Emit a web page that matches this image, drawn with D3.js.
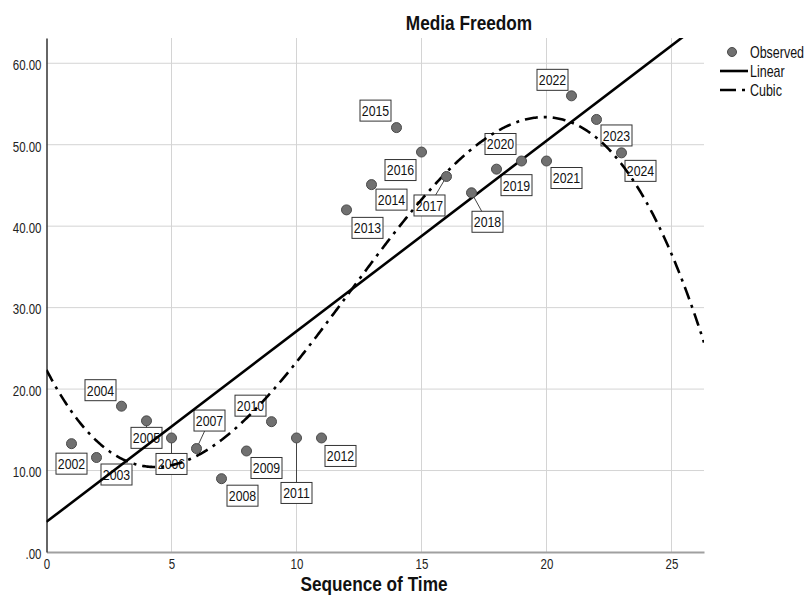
<!DOCTYPE html>
<html><head><meta charset="utf-8">
<script src="https://cdn.jsdelivr.net/npm/d3@7"></script>
<style>
body{margin:0;background:#fff;}
text{font-family:"Liberation Sans",Arial,sans-serif;}
</style></head>
<body><svg id="c" width="809" height="615"></svg>
<script>
// ---- data ----
const years = ["2002","2003","2004","2005","2006","2007","2008","2009","2010","2011","2012","2013","2014","2015","2016","2017","2018","2019","2020","2021","2022","2023","2024"];
const sequence = [1,2,3,4,5,6,7,8,9,10,11,12,13,14,15,16,17,18,19,20,21,22,23];
const mediaFreedom = [13.3,11.6,17.9,16.1,14.0,12.7,9.0,12.4,16.0,14.0,14.0,42.0,45.1,52.1,49.1,46.1,44.1,47.0,48.0,48.0,56.0,53.1,49.0];
const xTicks = [0,5,10,15,20,25];
const yTicks = [0,10,20,30,40,50,60];
const legendItems = ["Observed","Linear","Cubic"];
const titleText = "Media Freedom";
const xTitle = "Sequence of Time";

// ---- layout (label placement, px) ----
const labelOffsets = [[0,20],[20,17],[-21,-16],[0,17],[0,26],[13,-28],[21,17],[20,17],[-21,-16],[0,55],[19,18],[21,18],[20,15],[-21,-17],[-21,18],[-17,29],[16,29],[20,16],[-21,-17],[20,17],[-19,-16],[20,16],[19,18]];
const leader = [false,false,false,true,true,true,false,false,false,true,false,false,false,false,false,true,true,false,false,false,false,false,false];

const svg = d3.select("#c");
const L=46.5, R=704, T=38, B=552;
const x = d3.scaleLinear().domain([0,26.3]).range([L,R]);
const y = d3.scaleLinear().domain([0,63.1]).range([B,T]);
function narrow(sel, f){
  f = f || 0.82;
  sel.each(function(){
    const w=this.getComputedTextLength();
    if(w>0){ this.setAttribute("textLength", w*f); this.setAttribute("lengthAdjust","spacingAndGlyphs"); }
  });
}

// least-squares polynomial fit
function polyfit(xs, ys, deg){
  const n=deg+1, A=[], b=[];
  for(let i=0;i<n;i++){A.push(new Array(n).fill(0)); b.push(0);}
  xs.forEach((xv,k)=>{
    for(let i=0;i<n;i++){
      b[i]+=ys[k]*Math.pow(xv,i);
      for(let j=0;j<n;j++) A[i][j]+=Math.pow(xv,i+j);
    }
  });
  for(let i=0;i<n;i++){
    let p=i; for(let r=i+1;r<n;r++) if(Math.abs(A[r][i])>Math.abs(A[p][i])) p=r;
    [A[i],A[p]]=[A[p],A[i]]; [b[i],b[p]]=[b[p],b[i]];
    for(let r=i+1;r<n;r++){const f=A[r][i]/A[i][i]; for(let c=i;c<n;c++) A[r][c]-=f*A[i][c]; b[r]-=f*b[i];}
  }
  const c=new Array(n).fill(0);
  for(let i=n-1;i>=0;i--){let s=b[i]; for(let j=i+1;j<n;j++) s-=A[i][j]*c[j]; c[i]=s/A[i][i];}
  return c;
}
const evalPoly=(c,xv)=>c.reduce((s,ci,i)=>s+ci*Math.pow(xv,i),0);
const linC = polyfit(sequence, mediaFreedom, 1);
const cubC = polyfit(sequence, mediaFreedom, 3);

// grid
svg.append("g").selectAll("line").data(xTicks.filter(d=>d>0)).join("line")
  .attr("x1",d=>x(d)).attr("x2",d=>x(d)).attr("y1",T).attr("y2",B)
  .attr("stroke","#d4d4d4").attr("stroke-width",1);
svg.append("g").selectAll("line").data(yTicks.filter(d=>d>0)).join("line")
  .attr("x1",L).attr("x2",R).attr("y1",d=>y(d)).attr("y2",d=>y(d))
  .attr("stroke","#d4d4d4").attr("stroke-width",1);

// axes
const xAxis = svg.append("g").attr("transform",`translate(0,${B})`)
  .call(d3.axisBottom(x).tickValues(xTicks).tickSize(0).tickPadding(7).tickFormat(d3.format("d")));
xAxis.attr("font-family",null).attr("font-size",null);
xAxis.select(".domain").attr("stroke","#a0a0a0").attr("stroke-width",2);
xAxis.selectAll("text").attr("font-size",14).attr("fill","#222");
const yAxis = svg.append("g").attr("transform",`translate(${L},0)`)
  .call(d3.axisLeft(y).tickValues(yTicks).tickSize(0).tickPadding(5).tickFormat(d=>d===0?".00":d3.format(".2f")(d)));
yAxis.attr("font-family",null).attr("font-size",null);
yAxis.select(".domain").attr("stroke","#333").attr("stroke-width",1.5);
yAxis.selectAll("text").attr("font-size",14).attr("fill","#222").attr("dy","0.45em");
narrow(xAxis.selectAll("text")); narrow(yAxis.selectAll("text"));

const pts = sequence.map((s,i)=>({s, v:mediaFreedom[i], yr:years[i], off:labelOffsets[i], lead:leader[i]}));

// leader lines + labels
const lab = svg.append("g");
lab.selectAll("line").data(pts.filter(d=>d.lead)).join("line")
  .attr("x1",d=>x(d.s)).attr("y1",d=>y(d.v))
  .attr("x2",d=>x(d.s)+d.off[0]).attr("y2",d=>y(d.v)+d.off[1])
  .attr("stroke","#444").attr("stroke-width",1);
const bw=31, bh=21;
const lg = lab.selectAll("g").data(pts).join("g")
  .attr("transform",d=>`translate(${x(d.s)+d.off[0]},${y(d.v)+d.off[1]})`);
lg.append("rect").attr("x",-bw/2).attr("y",-bh/2).attr("width",bw).attr("height",bh)
  .attr("fill","#fff").attr("stroke","#333").attr("stroke-width",1);
const lt = lg.append("text").attr("text-anchor","middle").attr("dy","0.36em").attr("font-size",15).attr("fill","#111").text(d=>d.yr);
narrow(lt);

// fit lines
svg.append("clipPath").attr("id","clip").append("rect").attr("x",L).attr("y",T).attr("width",R-L).attr("height",B-T);
const xs = d3.range(0, 26.3001, 0.05);
const line = d3.line().x(d=>x(d[0])).y(d=>y(d[1]));
svg.append("path").attr("clip-path","url(#clip)")
  .attr("d", line([[0,evalPoly(linC,0)],[26.3,evalPoly(linC,26.3)]]))
  .attr("fill","none").attr("stroke","#000").attr("stroke-width",2.6);
svg.append("path").attr("clip-path","url(#clip)")
  .attr("d", line(xs.map(v=>[v,evalPoly(cubC,v)])))
  .attr("fill","none").attr("stroke","#000").attr("stroke-width",2.6)
  .attr("stroke-dasharray","13,6,3,6");

// points
svg.append("g").selectAll("circle").data(pts).join("circle")
  .attr("cx",d=>x(d.s)).attr("cy",d=>y(d.v)).attr("r",5)
  .attr("fill","#707070").attr("stroke","#4a4a4a").attr("stroke-width",1);

// titles
const t1 = svg.append("text").attr("x",469).attr("y",30).attr("text-anchor","middle")
  .attr("font-size",21).attr("font-weight","bold").attr("fill","#111").text(titleText);
const t2 = svg.append("text").attr("x",374).attr("y",591).attr("text-anchor","middle")
  .attr("font-size",21).attr("font-weight","bold").attr("fill","#111").text(xTitle);
narrow(t1); narrow(t2);

// legend
const leg = svg.append("g");
const rows=[52,71,90];
leg.append("circle").attr("cx",732).attr("cy",rows[0]).attr("r",4.5).attr("fill","#707070").attr("stroke","#4a4a4a");
leg.append("line").attr("x1",720).attr("x2",748).attr("y1",rows[1]).attr("y2",rows[1]).attr("stroke","#000").attr("stroke-width",2.6);
leg.append("line").attr("x1",720).attr("x2",748).attr("y1",rows[2]).attr("y2",rows[2]).attr("stroke","#000").attr("stroke-width",2.6).attr("stroke-dasharray","16,6,3,20");
leg.selectAll("text").data(legendItems).join("text")
  .attr("transform",(d,i)=>`translate(750,${rows[i]}) scale(0.78,1)`)
  .attr("x",0).attr("y",0).attr("dy","0.36em").attr("font-size",16).attr("fill","#111").text(d=>d);
</script></body></html>
